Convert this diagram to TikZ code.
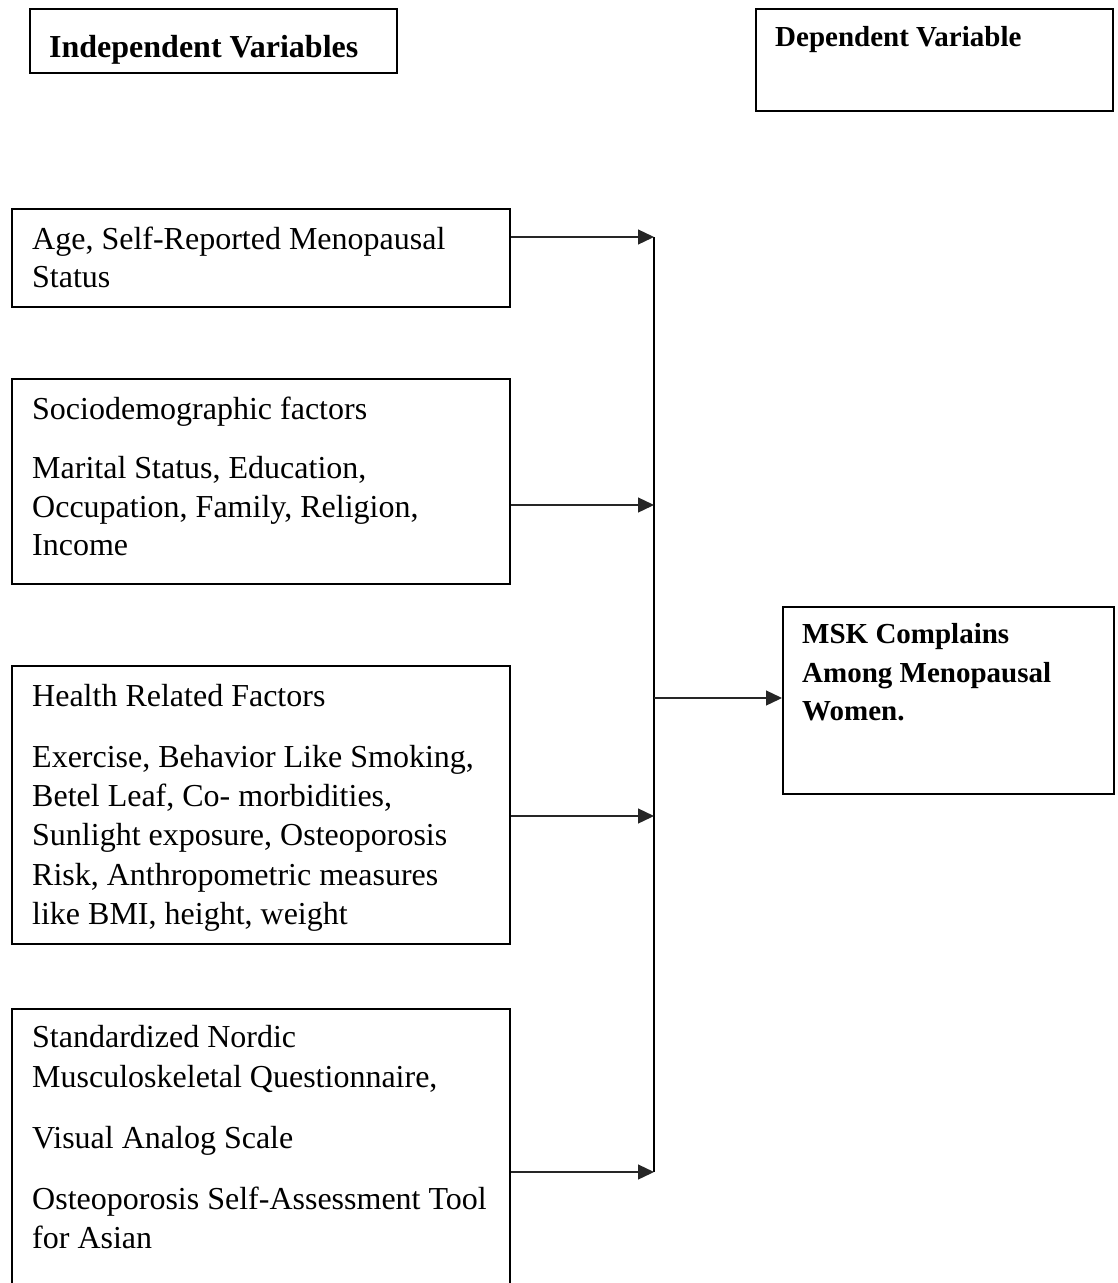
\documentclass[tikz,border=0pt]{standalone}
\usepackage{fontspec}
\setmainfont{Liberation Serif}
\usetikzlibrary{arrows.meta}
\begin{document}
\begin{tikzpicture}[x=1pt,y=-1pt,
  box/.style={draw=black, line width=1.9pt, inner sep=0pt, anchor=north west},
  txt/.style={anchor=base west, inner sep=0pt, font=\fontsize{32}{38}\selectfont},
  hdtxt/.style={anchor=base west, inner sep=0pt, font=\fontsize{32}{38}\selectfont\bfseries},
  btxt/.style={anchor=base west, inner sep=0pt, font=\fontsize{29}{37}\selectfont\bfseries},
  conn/.style={draw=black!85, line width=1.3pt, -{Triangle[length=16pt,width=15pt]}},
  trunk/.style={draw=black, line width=2.4pt}]
\useasboundingbox (0,0) rectangle (1118,1283);

% header boxes
\node[box, minimum width=367pt, minimum height=64pt] (iv) at (29,8) {};
\node[hdtxt] (ivt) at (49,57) {Independent Variables};
\node[box, minimum width=357pt, minimum height=102pt] (dv) at (755,8) {};
\node[btxt] (dvt) at (775,46) {Dependent Variable};

% box 1
\node[box, minimum width=498pt, minimum height=98pt] (b1) at (11,208) {};
\node[txt] (b1l1) at (32,249) {Age, Self-Reported Menopausal};
\node[txt] (b1l2) at (32,287) {Status};

% box 2
\node[box, minimum width=498pt, minimum height=205pt] (b2) at (11,378) {};
\node[txt] (b2l1) at (32,419) {Sociodemographic factors};
\node[txt] (b2l2) at (32,478) {Marital Status, Education,};
\node[txt] (b2l3) at (32,517) {Occupation, Family, Religion,};
\node[txt] (b2l4) at (32,555) {Income};

% box 3
\node[box, minimum width=498pt, minimum height=278pt] (b3) at (11,665) {};
\node[txt] (b3l1) at (32,706) {Health Related Factors};
\node[txt] (b3l2) at (32,767) {Exercise, Behavior Like Smoking,};
\node[txt] (b3l3) at (32,806) {Betel Leaf, Co- morbidities,};
\node[txt] (b3l4) at (32,845) {Sunlight exposure, Osteoporosis};
\node[txt] (b3l5) at (32,885) {Risk, Anthropometric measures};
\node[txt] (b3l6) at (32,924) {like BMI, height, weight};

% box 4 (runs past the bottom edge)
\node[box, minimum width=498pt, minimum height=300pt] (b4) at (11,1008) {};
\node[txt] (b4l1) at (32,1047) {Standardized Nordic};
\node[txt] (b4l2) at (32,1087) {Musculoskeletal Questionnaire,};
\node[txt] (b4l3) at (32,1148) {Visual Analog Scale};
\node[txt] (b4l4) at (32,1209) {Osteoporosis Self-Assessment Tool};
\node[txt] (b4l5) at (32,1248) {for Asian};

% outcome box
\node[box, minimum width=331pt, minimum height=187pt] (msk) at (782,606) {};
\node[btxt] (m1) at (802,643) {MSK Complains};
\node[btxt] (m2) at (802,682) {Among Menopausal};
\node[btxt] (m3) at (802,720) {Women.};

% junction coordinates on the trunk
\coordinate (j1) at (654,237);
\coordinate (j2) at (654,505);
\coordinate (j3) at (654,816);
\coordinate (j4) at (654,1172);
\coordinate (jm) at (654,698);

\draw[trunk] (j1) -- (j4);
\draw[conn] (b1.east |- j1) -- (j1);
\draw[conn] (b2.east |- j2) -- (j2);
\draw[conn] (b3.east |- j3) -- (j3);
\draw[conn] (b4.east |- j4) -- (j4);
\draw[conn] (jm) -- (msk.west |- jm);
\end{tikzpicture}
\end{document}
